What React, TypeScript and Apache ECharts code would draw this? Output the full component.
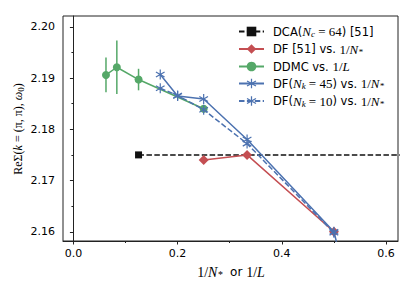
import React, { useEffect, useRef } from "react";
import * as echarts from "echarts";

// ---- data ----
const dcaX = [0.125, 0.7];
const dcaY = [2.175, 2.175];

const df51X = [1 / 4, 1 / 3, 1 / 2];
const df51Y = [2.174, 2.175, 2.16];

const ddmcX = [1 / 16, 1 / 12, 1 / 8, 1 / 4];
const ddmcY = [2.1906, 2.1921, 2.1897, 2.184];
const ddmcErr = [0.0034, 0.0052, 0.0021, 0.0003];

const dfk45X = [1 / 6, 1 / 5, 1 / 4, 1 / 3, 1 / 2, 0.515];
const dfk45Y = [2.1907, 2.1865, 2.1859, 2.178, 2.16, 2.154];

const dfk10X = [1 / 6, 1 / 5, 1 / 4, 1 / 3, 1 / 2];
const dfk10Y = [2.188, 2.1866, 2.1838, 2.1772, 2.1598];

const xTicks = [0, 0.2, 0.4, 0.6];
const xMinor = [0.1, 0.3, 0.5];
const yTicks = [2.16, 2.17, 2.18, 2.19, 2.2];
const yMinor = [2.165, 2.175, 2.185, 2.195];

const names = ["DCA", "DF51", "DDMC", "DFk45", "DFk10"];

const BLUE = "#4C72B0";
const GREEN = "#55A868";
const RED = "#C44E52";
const BLACK = "#111111";

const ASTERISK =
  "path://M-1.2,-10L1.2,-10L1.2,10L-1.2,10Z" +
  "M8.06,-6.04L9.26,-3.96L-8.06,6.04L-9.26,3.96Z" +
  "M-9.26,-3.96L-8.06,-6.04L9.26,3.96L8.06,6.04Z";

const zip = (xs: number[], ys: number[]) => xs.map((x, i) => [x, ys[i]]);

const SANS = "DejaVu Sans";
const SERIF = "Liberation Serif";

const mkRich = (t: number, m: number, s: number, lh: number) => ({
  t: { fontFamily: SANS, fontSize: t, color: "#000", lineHeight: lh },
  i: { fontFamily: SERIF, fontStyle: "italic", fontSize: m, color: "#000", lineHeight: lh },
  r: { fontFamily: SERIF, fontSize: m, color: "#000", lineHeight: lh },
  s: { fontFamily: SERIF, fontStyle: "italic", fontSize: s, color: "#000", lineHeight: 8, verticalAlign: "bottom" },
  sr: { fontFamily: SERIF, fontSize: s, color: "#000", lineHeight: 8, verticalAlign: "bottom" },
});

const legendRich = mkRich(11.5, 13, 9, 14);
const xRich = mkRich(12, 14, 10, 15);
const yRich = mkRich(11, 12, 9, 14);

const legendText: Record<string, string> = {
  DCA: "{t|DCA(}{i|N}{s|c}{r| = 64}{t|) [51]}",
  DF51: "{t|DF [51] vs. }{r|1/}{i|N}{s|*}",
  DDMC: "{t|DDMC vs. }{r|1/}{i|L}",
  DFk45: "{t|DF(}{i|N}{s|k}{r| = 45}{t|) vs. }{r|1/}{i|N}{s|*}",
  DFk10: "{t|DF(}{i|N}{s|k}{r| = 10}{t|) vs. }{r|1/}{i|N}{s|*}",
};

export default function App() {
  const ref = useRef<HTMLDivElement>(null);
  useEffect(() => {
    if (!ref.current) return;
    const chart = echarts.init(ref.current, null, { renderer: "svg" });
    const xMin = -0.02;
    const xMax = 0.623;
    const yMin = 2.1582;
    const yMax = 2.2021;
    const axisBase = {
      type: "value" as const,
      splitLine: { show: false },
    };
    chart.setOption({
      animation: false,
      backgroundColor: "#fff",
      grid: {
        left: 63,
        top: 16,
        right: 17,
        bottom: 50,
        show: true,
        borderColor: "#222",
        borderWidth: 1,
        backgroundColor: "transparent",
      },
      xAxis: [
        {
          ...axisBase,
          min: xMin,
          max: xMax,
          axisLine: { show: true, lineStyle: { color: "#222", width: 1 } },
          axisTick: { show: true, length: 3.5, customValues: xTicks, lineStyle: { color: "#222" } },
          axisLabel: {
            customValues: xTicks,
            formatter: (v: number) => v.toFixed(1),
            fontFamily: SANS,
            fontSize: 11,
            color: "#000",
            margin: 7,
          },
        },
        {
          ...axisBase,
          min: xMin,
          max: xMax,
          position: "bottom",
          axisLine: { show: false },
          axisTick: { show: true, length: 2, customValues: xMinor, lineStyle: { color: "#222" } },
          axisLabel: { show: false },
        },
      ],
      yAxis: [
        {
          ...axisBase,
          min: yMin,
          max: yMax,
          axisLine: { show: true, lineStyle: { color: "#222", width: 1 } },
          axisTick: { show: true, length: 3.5, customValues: yTicks, lineStyle: { color: "#222" } },
          axisLabel: {
            customValues: yTicks,
            formatter: (v: number) => v.toFixed(2),
            fontFamily: SANS,
            fontSize: 11,
            color: "#000",
            margin: 8,
          },
        },
        {
          ...axisBase,
          min: yMin,
          max: yMax,
          position: "left",
          axisLine: { show: false },
          axisTick: { show: true, length: 2, customValues: yMinor, lineStyle: { color: "#222" } },
          axisLabel: { show: false },
        },
      ],
      legend: {
        data: names,
        orient: "vertical",
        left: 233,
        top: 20,
        itemWidth: 25,
        itemHeight: 12,
        itemGap: 4,
        formatter: (n: string) => legendText[n],
        textStyle: { rich: legendRich, padding: [0, 0, 0, 4] },
      },
      series: [
        {
          name: "DCA",
          type: "line",
          data: zip(dcaX, dcaY),
          symbol: "rect",
          symbolSize: 7,
          clip: true,
          itemStyle: { color: BLACK },
          lineStyle: { color: BLACK, width: 1.5, type: [5.5, 2.4] },
          z: 2,
        },
        {
          name: "DF51",
          type: "line",
          data: zip(df51X, df51Y),
          symbol: "diamond",
          symbolSize: 10,
          clip: true,
          itemStyle: { color: RED },
          lineStyle: { color: RED, width: 1.5 },
          z: 3,
        },
        {
          name: "DDMCerr",
          type: "custom",
          data: ddmcX.map((x, i) => [x, ddmcY[i], ddmcErr[i]]),
          renderItem: (params: any, api: any) => {
            const x = api.value(0);
            const y = api.value(1);
            const e = api.value(2);
            const p1 = api.coord([x, y - e]);
            const p2 = api.coord([x, y + e]);
            return {
              type: "line",
              shape: { x1: p1[0], y1: p1[1], x2: p2[0], y2: p2[1] },
              style: { stroke: GREEN, lineWidth: 1.5 },
            };
          },
          z: 4,
        },
        {
          name: "DDMC",
          type: "line",
          data: zip(ddmcX, ddmcY),
          symbol: "circle",
          symbolSize: 8,
          clip: true,
          itemStyle: { color: GREEN },
          lineStyle: { color: GREEN, width: 1.5 },
          z: 4,
        },
        {
          name: "DFk45",
          type: "line",
          data: zip(dfk45X, dfk45Y),
          symbol: ASTERISK,
          symbolSize: 10,
          symbolKeepAspect: true,
          clip: true,
          itemStyle: { color: BLUE },
          lineStyle: { color: BLUE, width: 1.5 },
          z: 5,
        },
        {
          name: "DFk10",
          type: "line",
          data: zip(dfk10X, dfk10Y),
          symbol: ASTERISK,
          symbolSize: 10,
          symbolKeepAspect: true,
          clip: true,
          itemStyle: { color: BLUE },
          lineStyle: { color: BLUE, width: 1.5, type: [5.5, 2.4] },
          z: 5,
        },
      ],
      graphic: [
        {
          type: "text",
          x: 18,
          y: 129,
          rotation: Math.PI / 2,
          style: {
            text: "{r|ReΣ(}{i|k}{r| = (π, π), }{i|ω}{sr|0}{r|)}",
            rich: yRich,
            align: "center",
            verticalAlign: "middle",
          },
        },
        {
          type: "text",
          x: 231,
          y: 272,
          style: {
            text: "{r|1/}{i|N}{s|*}{t|  or }{r|1/}{i|L}",
            rich: xRich,
            align: "center",
            verticalAlign: "middle",
          },
        },
      ],
    });
    return () => chart.dispose();
  }, []);
  return (
    <div
      ref={ref}
      style={{ position: "fixed", left: 0, top: 0, width: 415, height: 291 }}
    />
  );
}
